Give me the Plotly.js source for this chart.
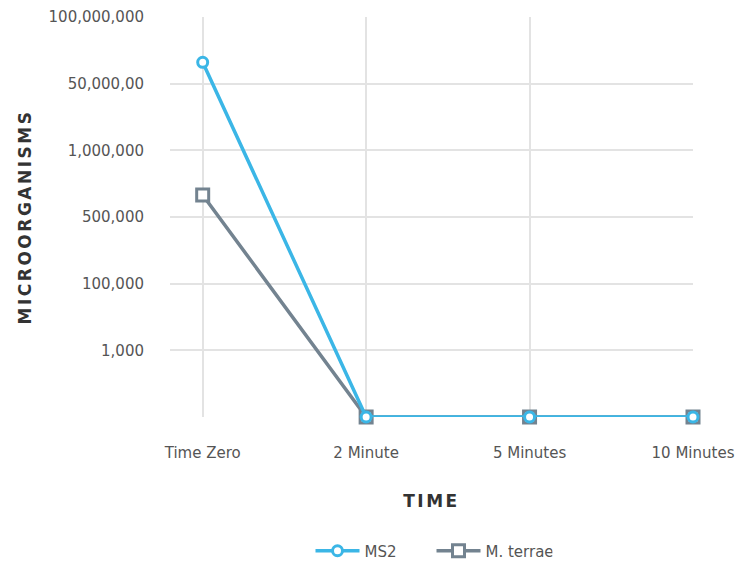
<!DOCTYPE html>
<html>
<head>
<meta charset="utf-8">
<script src="https://cdn.plot.ly/plotly-3.0.1.min.js"></script>
<style>html,body{margin:0;padding:0;background:#fff}#chart{width:737px;height:563px}</style>
</head>
<body>
<div id="chart"></div>
<script>
const categories = ['Time Zero', '2 Minute', '5 Minutes', '10 Minutes'];
const ms2 = [5.32, 0, 0, 0];
const mterrae = [3.33, 0, 0, 0];
const yTickVals = [0, 1, 2, 3, 4, 5, 6];
const yTickText = ['', '1,000', '100,000', '500,000', '1,000,000', '50,000,00', '100,000,000'];

const xIdx = categories.map((c, i) => i);
const FONT = 'DejaVu Sans, sans-serif';

const traces = [
  {
    x: xIdx, y: mterrae, name: 'M. terrae', mode: 'lines+markers', legendrank: 2,
    line: {color: '#738390', width: 3.5},
    marker: {symbol: 'square', size: 12, color: '#ffffff', line: {color: '#738390', width: 3}},
    cliponaxis: false
  },
  {
    x: xIdx, y: ms2, name: 'MS2', mode: 'lines+markers', legendrank: 1,
    line: {color: '#3bb6e6', width: 3.5},
    marker: {symbol: 'circle', size: 10, color: '#ffffff', line: {color: '#3bb6e6', width: 3}},
    cliponaxis: false
  }
];

const layout = {
  width: 737, height: 563,
  margin: {l: 170, r: 44, t: 17, b: 146, autoexpand: false},
  paper_bgcolor: '#fff', plot_bgcolor: '#fff',
  font: {family: FONT, color: '#555', size: 15},
  showlegend: true,
  legend: {orientation: 'h', x: 0.5, xanchor: 'center', y: -0.335, yanchor: 'middle',
           font: {size: 15, color: '#555'}, itemwidth: 44, entrywidth: 62, tracegroupgap: 0},
  xaxis: {
    range: [-0.2, 3], tickvals: xIdx, ticktext: categories, automargin: false,
    showgrid: true, gridcolor: '#e3e3e3', gridwidth: 2,
    zeroline: false, showline: false,
    ticks: 'outside', ticklen: 22, tickcolor: 'rgba(0,0,0,0)',
    tickfont: {size: 15, color: '#555'},
    title: {text: '<b>TIME</b>', font: {size: 17, color: '#333'}, standoff: 34}
  },
  yaxis: {
    range: [0, 6], tickvals: yTickVals, ticktext: yTickText, automargin: false,
    showgrid: true, gridcolor: '#e3e3e3', gridwidth: 2,
    zeroline: false, showline: false,
    ticks: 'outside', ticklen: 22, tickcolor: 'rgba(0,0,0,0)',
    tickfont: {size: 15, color: '#555'},
    title: {text: '<b>MICROORGANISMS</b>', font: {size: 17, color: '#333'}, standoff: 12}
  }
};

Plotly.newPlot('chart', traces, layout, {displayModeBar: false, staticPlot: true}).then(gd => {
  const yt = gd.querySelector('.g-ytitle text');
  if (yt) yt.setAttribute('letter-spacing', '2.5px');
  const xt = gd.querySelector('.g-xtitle text');
  if (xt) xt.setAttribute('letter-spacing', '2.5px');
});
</script>
</body>
</html>
